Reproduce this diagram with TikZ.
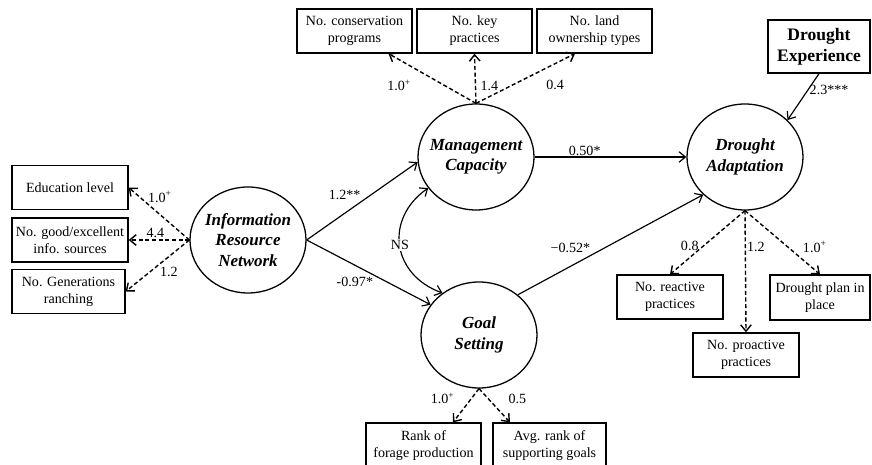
\documentclass[tikz,border=0pt]{standalone}
\usepackage{fontspec}
\setmainfont{Liberation Serif}
\usetikzlibrary{shapes.geometric,arrows.meta}
\begin{document}
\begin{tikzpicture}[
        latent/.style={ellipse, draw, line width=1.1pt, minimum width=3.48cm, minimum height=3.18cm, inner xsep=-10pt, inner ysep=0pt, align=center, font=\fontsize{14.5}{17.5}\selectfont\bfseries\itshape},
        indicator/.style={rectangle, draw, line width=1.1pt, minimum width=3.45cm, minimum height=1.32cm, inner sep=1pt, align=center, font=\fontsize{12}{14.5}\selectfont},
        link/.style={->, >={Straight Barb[length=5.5pt,width=9pt]}, line width=1pt},
        load/.style={link, line width=1.2pt, dash pattern=on 3.5pt off 2.2pt},
        coef/.style={inner sep=1pt, font=\fontsize{12}{14}\selectfont}
    ]
    \useasboundingbox (0,0) rectangle (26.16,13.95);

    \node[latent] (irn) at (7.44,6.75) {Information\\Resource\\Network};
    \node[latent] (mc) at (14.28,9.24) {Management\\Capacity};
    \node[latent] (gs) at (14.37,3.90) {Goal\\Setting};
    \node[latent] (da) at (22.35,9.24) {Drought\\Adaptation};

    \node[indicator, minimum width=3.48cm] (edu) at (2.10,8.325) {Education level};
    \node[indicator, minimum width=3.48cm] (good) at (2.10,6.75) {No. good/excellent\\info. sources};
    \node[indicator, minimum width=3.39cm] (gen) at (2.055,5.205) {No. Generations\\ranching};
    \node[indicator] (cons) at (10.635,13.02) {No. conservation\\programs};
    \node[indicator] (key) at (14.235,13.02) {No. key\\practices};
    \node[indicator] (land) at (17.835,13.02) {No. land\\ownership types};
    \node[indicator, minimum width=3.06cm, minimum height=1.59cm, font=\fontsize{15}{18}\selectfont\bfseries] (dexp) at (24.57,12.555) {Drought\\Experience};
    \node[indicator, minimum width=3.18cm] (react) at (20.10,5.04) {No. reactive\\practices};
    \node[indicator, minimum width=3.0cm, minimum height=1.35cm] (plan) at (24.60,5.025) {Drought plan in\\place};
    \node[indicator, minimum width=3.18cm] (proact) at (22.38,3.30) {No. proactive\\practices};
    \node[indicator, minimum height=1.35cm] (rank) at (12.705,0.585) {Rank of\\forage production};
    \node[indicator, minimum width=3.39cm, minimum height=1.35cm] (avg) at (16.485,0.585) {Avg. rank of\\supporting goals};

    \draw[load] (irn.west) -- node[coef, pos=0.82, right=2mm] (wEdu) {1.0\textsuperscript{+}} (edu.east);
    \draw[load] (irn.west) -- node[coef, pos=0.56, above] (wGood) {4.4} (good.east);
    \draw[load] (irn.west) -- node[coef, pos=0.62, right=2.5mm] (wGen) {1.2} (gen.east);

    \draw[load] (mc.north) -- node[coef, pos=0.88, below=5.5mm] (wCons) {1.0\textsuperscript{+}} ([xshift=1.02cm]cons.south);
    \draw[load] (mc.north) -- node[coef, pos=0.35, right=1mm] (wKey) {1.4} (key.south);
    \draw[load] (mc.north) -- node[coef, pos=0.8, below=4.5mm] (wLand) {0.4} ([xshift=-0.585cm]land.south);

    \draw[link] (irn.east) -- node[coef, pos=0.5, above left] (wMc) {1.2**} (mc.185);
    \draw[link] (irn.east) -- node[coef, pos=0.55, below left] (wGs) {-0.97*} (gs.148);
    \draw[link] (mc.east) -- node[coef, pos=0.33, above] (wDa) {0.50*} (da.west);
    \draw[link] (gs.46) -- node[coef, pos=0.4, above left] (wGsDa) {−0.52*} (da.222);
    \draw[link, <->] (mc.213) to[out=215, in=160, looseness=1.3] node[coef, fill=white] (ns) {NS} (gs.131);

    \draw[link] (dexp.south) -- node[coef, pos=0.35, right] (wExp) {2.3***} (da.41);
    \draw[load] (da.south) -- node[coef, pos=0.55, left=1mm] (wReact) {0.8} (react.north);
    \draw[load] (da.south) -- node[coef, pos=0.3, right] (wPro) {1.2} (proact.north);
    \draw[load] (da.south) -- node[coef, pos=0.57, right=4mm] (wPlan) {1.0\textsuperscript{+}} (plan.north);

    \draw[load] (gs.south) -- node[coef, pos=0.3, left=4.5mm] (wRank) {1.0\textsuperscript{+}} ([xshift=0.885cm]rank.north);
    \draw[load] (gs.south) -- node[coef, pos=0.3, right=5.5mm] (wAvg) {0.5} ([xshift=-1.185cm]avg.north);

    \end{tikzpicture}
\end{document}
